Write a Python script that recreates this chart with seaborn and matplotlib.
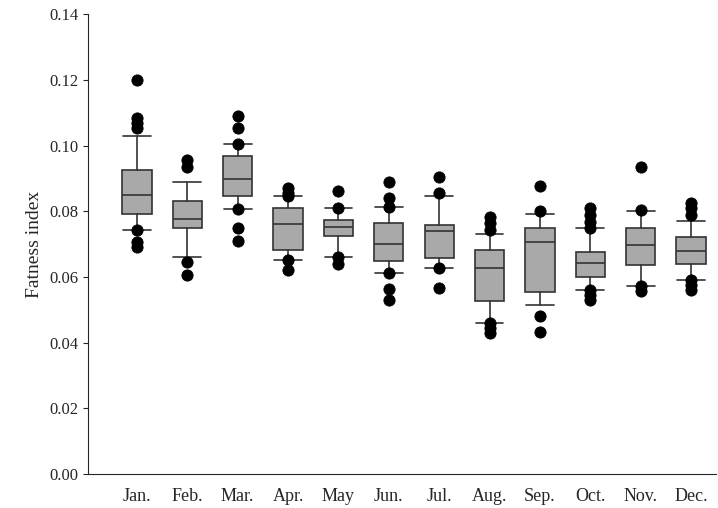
import matplotlib
matplotlib.use("Agg")
import matplotlib.pyplot as plt
import seaborn as sns
import pandas as pd

months = ["Jan.", "Feb.", "Mar.", "Apr.", "May", "Jun.", "Jul.", "Aug.", "Sep.", "Oct.", "Nov.", "Dec."]
q1 =     [0.0791, 0.0749, 0.0846, 0.0682, 0.0725, 0.0648, 0.0657, 0.0527, 0.0554, 0.0600, 0.0636, 0.0639]
median = [0.0849, 0.0776, 0.0898, 0.0761, 0.0752, 0.0700, 0.0740, 0.0627, 0.0706, 0.0642, 0.0697, 0.0679]
q3 =     [0.0925, 0.0831, 0.0968, 0.0810, 0.0773, 0.0764, 0.0758, 0.0682, 0.0749, 0.0676, 0.0749, 0.0721]
whislo = [0.0743, 0.0661, 0.0807, 0.0651, 0.0661, 0.0612, 0.0627, 0.0460, 0.0514, 0.0560, 0.0572, 0.0590]
whishi = [0.1029, 0.0889, 0.1005, 0.0846, 0.0810, 0.0813, 0.0846, 0.0730, 0.0791, 0.0749, 0.0800, 0.0770]
outliers = [
    [0.120, 0.1084, 0.1068, 0.1053, 0.0743, 0.0706, 0.0691],
    [0.0956, 0.0935, 0.0645, 0.0606],
    [0.1090, 0.1053, 0.1005, 0.0807, 0.0749, 0.0709],
    [0.0871, 0.0855, 0.0846, 0.0651, 0.0621],
    [0.0862, 0.0810, 0.0661, 0.0639],
    [0.0889, 0.0840, 0.0813, 0.0612, 0.0563, 0.0530],
    [0.0904, 0.0855, 0.0627, 0.0566],
    [0.0782, 0.0764, 0.0743, 0.0460, 0.0444, 0.0429],
    [0.0877, 0.0800, 0.0481, 0.0432],
    [0.0810, 0.0788, 0.0767, 0.0749, 0.0560, 0.0545, 0.0530],
    [0.0934, 0.0803, 0.0572, 0.0557],
    [0.0825, 0.0810, 0.0788, 0.0590, 0.0575, 0.0560],
]

sns.set_style("ticks")
plt.rcParams['font.family'] = ['Liberation Serif', 'DejaVu Serif']

fig = plt.figure(figsize=(7.18, 5.08), dpi=100)
ax = fig.add_axes([0.1226, 0.067, 0.875, 0.905])

stats = [dict(label=m, q1=a, med=b, q3=c, whislo=d, whishi=e, fliers=[])
         for m, a, b, c, d, e in zip(months, q1, median, q3, whislo, whishi)]
ax.bxp(stats, positions=range(len(months)), widths=0.58, patch_artist=True,
       boxprops=dict(facecolor="#a9a9a9", edgecolor="#333333", linewidth=1.2),
       medianprops=dict(color="#333333", linewidth=1.2),
       whiskerprops=dict(color="#333333", linewidth=1.2),
       capprops=dict(color="#333333", linewidth=1.2), capwidths=0.55)

df = pd.DataFrame([(i, v) for i, vs in enumerate(outliers) for v in vs], columns=["pos", "val"])
sns.scatterplot(data=df, x="pos", y="val", ax=ax, color="black", s=65, edgecolor="black", zorder=5)

ax.set_xlim(-0.97, 11.5)
ax.set_ylim(0, 0.14)
ax.set_yticks([0, 0.02, 0.04, 0.06, 0.08, 0.10, 0.12, 0.14])
ax.set_yticklabels([f"{v:.2f}" for v in ax.get_yticks()])
ax.set_xticks(range(len(months)))
ax.set_xticklabels(months)
ax.tick_params(axis="x", length=0, labelsize=13, pad=10)
ax.tick_params(axis="y", labelsize=12)
ax.set_xlabel("")
ax.set_ylabel("Fatness index", fontsize=14)
for s in ["top", "right"]:
    ax.spines[s].set_visible(False)
fig.savefig("out.png", dpi=100)
